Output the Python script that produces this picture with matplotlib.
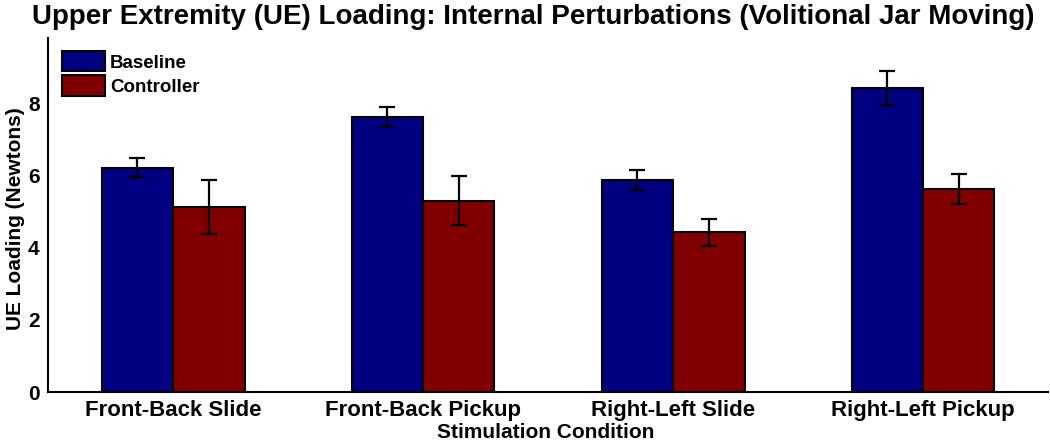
import matplotlib
matplotlib.use("Agg")
import matplotlib.pyplot as plt
import numpy as np
from matplotlib.patches import Patch

categories = ["Front-Back Slide", "Front-Back Pickup", "Right-Left Slide", "Right-Left Pickup"]
baseline = [6.23, 7.63, 5.88, 8.44]
baseline_err = [0.26, 0.28, 0.28, 0.48]
controller = [5.14, 5.31, 4.43, 5.64]
controller_err = [0.74, 0.68, 0.38, 0.41]
yticks = [0, 2, 4, 6, 8]

plt.rcParams['font.family'] = ['Liberation Sans', 'DejaVu Sans']

fig = plt.figure(figsize=(10.5, 4.43), dpi=100)
ax = fig.add_axes([48/1050, 1-392/443, 1000/1050, (392-38)/443])

x = np.arange(1, len(categories)+1)
w = 0.286
blue = "#000080"
red = "#800000"
ax.bar(x - w/2, baseline, w, color=blue, edgecolor="black", linewidth=1.5, zorder=2)
ax.bar(x + w/2, controller, w, color=red, edgecolor="black", linewidth=1.5, zorder=2)
ax.errorbar(x - w/2, baseline, yerr=baseline_err, fmt="none", ecolor="black",
            elinewidth=1.6, capsize=5.5, capthick=1.6, zorder=3)
ax.errorbar(x + w/2, controller, yerr=controller_err, fmt="none", ecolor="black",
            elinewidth=1.6, capsize=5.5, capthick=1.6, zorder=3)

ax.set_xlim(0.5, 4.5)
ax.set_ylim(0, 9.83)
ax.set_yticks(yticks)
ax.set_yticklabels([str(t) for t in yticks], fontsize=15, fontweight="bold")
ax.set_xticks(x)
ax.set_xticklabels(categories, fontsize=16, fontweight="bold")
ax.tick_params(axis="y", length=0, pad=6)
ax.tick_params(axis="x", length=0, pad=6)
for s in ["top", "right"]:
    ax.spines[s].set_visible(False)
for s in ["left", "bottom"]:
    ax.spines[s].set_linewidth(1.5)

fig.text(16/1050, 1-219/443, "UE Loading (Newtons)", rotation=90, ha="center", va="center",
         fontsize=15, fontweight="bold")
fig.text(546/1050, 5/443, "Stimulation Condition", ha="center", va="baseline",
         fontsize=15, fontweight="bold")

fig.text(0.508, 0.99, "Upper Extremity (UE) Loading: Internal Perturbations (Volitional Jar Moving)",
         ha="center", va="top", fontsize=20, fontweight="bold")

handles = [Patch(facecolor=blue, edgecolor="black", linewidth=1.5, label="Baseline"),
           Patch(facecolor=red, edgecolor="black", linewidth=1.5, label="Controller")]
leg = ax.legend(handles=handles, loc="upper left", bbox_to_anchor=(0.003, 0.995), frameon=False,
                prop={"weight": "bold", "size": 13.5}, handlelength=2.3, handleheight=1.3,
                handletextpad=0.25, labelspacing=0.2, borderaxespad=0.2)

fig.savefig("out.png", dpi=100)
